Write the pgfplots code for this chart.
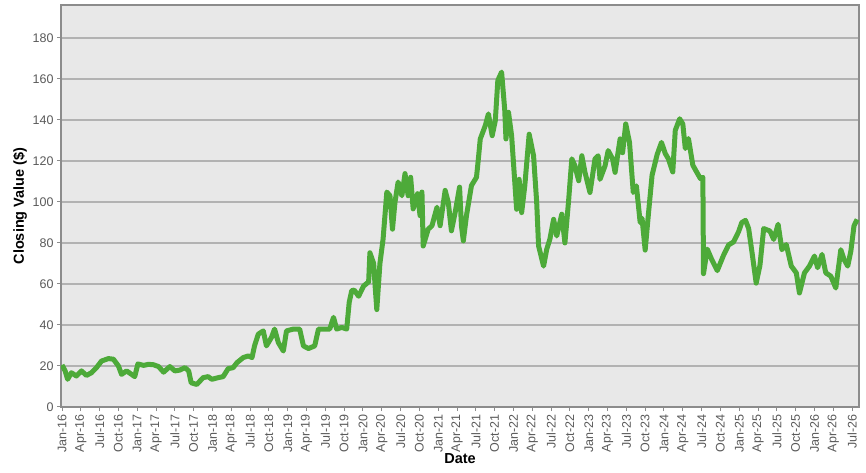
\documentclass[border=0pt]{standalone}
\usepackage{fontspec}
\setmainfont{Liberation Sans}
\usepackage{pgfplots}
\pgfplotsset{compat=1.18}
\definecolor{linegreen}{RGB}{77,170,57}
\definecolor{panel}{RGB}{232,232,232}
\definecolor{gridc}{RGB}{178,178,178}
\definecolor{framec}{RGB}{140,140,140}
\definecolor{ticktext}{RGB}{90,90,90}
\begin{document}
\begin{tikzpicture}
\useasboundingbox (-61pt,-66pt) rectangle (805pt,407pt);
\begin{axis}[
    at={(0,0)}, anchor=south west,
    width=798pt, height=402pt, scale only axis,
    xmin=-0.16, xmax=127.1, ymin=0, ymax=196,
    axis background/.style={fill=panel},
    axis line style={framec, line width=1.2pt},
    ytick={0,20,...,180},
    ymajorgrids, major grid style={gridc, line width=1.4pt},
    xtick={0,3,...,126},
    xticklabels={Jan-16,Apr-16,Jul-16,Oct-16,Jan-17,Apr-17,Jul-17,Oct-17,
      Jan-18,Apr-18,Jul-18,Oct-18,Jan-19,Apr-19,Jul-19,Oct-19,
      Jan-20,Apr-20,Jul-20,Oct-20,Jan-21,Apr-21,Jul-21,Oct-21,
      Jan-22,Apr-22,Jul-22,Oct-22,Jan-23,Apr-23,Jul-23,Oct-23,
      Jan-24,Apr-24,Jul-24,Oct-24,Jan-25,Apr-25,Jul-25,Oct-25,
      Jan-26,Apr-26,Jul-26},
    tick pos=left, tick align=outside, major tick length=4pt,
    tick style={framec, line width=1pt},
    /pgf/number format/assume math mode=true,
    tick label style={font=\fontsize{12.5}{14}\selectfont, text=ticktext},
    x tick label style={rotate=90, anchor=east},
    xlabel={Date}, ylabel={Closing Value (\$)},
    xlabel style={font=\bfseries\fontsize{14.5}{16}\selectfont,
      at={(axis description cs:0.5,-0.129)}, anchor=center},
    ylabel style={font=\bfseries\fontsize{14.5}{16}\selectfont,
      at={(axis description cs:-0.0514,0.5)}, anchor=center},
]
\addplot[linegreen, line width=5pt, line join=round, no markers] coordinates {
(0,20.5) (0.5,17.6) (0.9,13.5) (1.5,16.7) (2.3,15.1) (3.1,17.6) (3.9,15.4)
(4.7,16.7) (5.5,19.2) (6.3,22.4) (7.4,23.6) (8.2,23.3) (9.0,20.0) (9.5,15.9)
(10.3,17.6) (11.1,15.9) (11.6,14.8) (12.1,21.0) (13.0,20.3) (13.8,20.8)
(14.6,20.6) (15.4,19.7) (16.2,17.0) (17.2,19.7) (18.0,17.6) (18.8,18.0)
(19.6,19.2) (20.2,17.6) (20.6,11.8) (21.5,11.0) (22.5,14.3) (23.3,14.8)
(23.9,13.5) (24.9,14.3) (25.7,14.8) (26.5,18.7) (27.3,19.2) (27.9,21.6)
(28.9,24.1) (29.7,24.9) (30.3,24.1) (30.7,29.8) (31.3,35.5) (32.1,37.1)
(32.6,29.8) (33.4,33.9) (33.9,38.0) (34.5,31.4) (35.3,27.3) (35.8,37.1)
(36.9,38.0) (37.9,38.0) (38.5,29.8) (39.3,28.5) (40.3,29.8) (40.9,38.0)
(41.9,38.0) (42.7,38.0) (43.3,43.7) (43.8,38.0) (44.6,38.8) (45.4,38.0)
(45.8,51.0) (46.2,56.7) (46.6,57.0) (47.3,54.0) (48.1,59.0) (48.9,61.0)
(49.1,75.2) (49.7,70.0) (49.9,60.5) (50.2,47.5) (50.7,70.0) (51.2,81.8)
(51.8,104.8) (52.3,103.0) (52.7,86.7) (53.1,99.8) (53.6,109.7) (54.2,103.0)
(54.7,113.8) (55.2,103.0) (55.6,112.0) (56.0,96.6) (56.7,104.0) (57.1,93.3)
(57.4,104.8) (57.6,78.5) (58.4,86.7) (59.0,88.4) (59.8,97.4) (60.3,88.4)
(61.1,105.6) (61.6,99.8) (62.1,85.9) (62.7,94.9) (63.4,107.2) (63.7,88.4)
(64.0,81.0) (64.5,93.3) (65.3,108.0) (66.1,112.0) (66.4,121.0) (66.7,130.7)
(67.5,137.2) (68.0,142.9) (68.6,132.3) (69.1,139.6) (69.5,159.2) (70.1,163.3)
(70.6,145.0) (70.8,130.7) (71.2,143.7) (71.7,132.3) (72.1,114.4) (72.5,96.4)
(72.9,111.0) (73.3,94.8) (73.8,107.8) (74.5,133.0) (75.2,122.5) (75.7,99.7)
(76.0,78.5) (76.8,68.7) (77.3,76.9) (77.8,81.8) (78.4,91.5) (78.9,83.4)
(79.7,94.0) (80.2,80.0) (80.8,101.0) (81.3,121.0) (81.8,117.6) (82.4,110.3)
(82.9,122.5) (83.4,114.4) (84.2,104.6) (85.0,121.0) (85.5,122.5) (85.8,111.0)
(86.6,117.6) (87.1,125.0) (87.8,121.0) (88.2,114.4) (89.0,130.7) (89.4,124.0)
(89.9,138.0) (90.5,129.0) (91.1,104.6) (91.6,107.8) (92.2,90.0) (92.5,92.0)
(93.0,76.5) (93.5,93.5) (94.1,113.0) (94.9,123.0) (95.6,129.0) (96.2,123.6)
(96.7,121.0) (97.4,114.6) (97.8,134.9) (98.5,140.5) (99.0,138.0) (99.4,126.0)
(99.9,130.9) (100.6,117.9) (101.2,114.6) (101.8,111.4) (102.2,112.0)
(102.3,65.0) (102.9,77.0) (103.6,72.0) (104.5,66.5) (105.5,74.0) (106.3,79.0)
(107.1,80.5) (107.9,85.5) (108.4,89.9) (109.0,91.0) (109.5,87.0) (110.1,74.0)
(110.7,60.4) (111.3,69.0) (111.9,87.0) (112.9,85.8) (113.5,81.7) (114.2,89.1)
(114.8,76.7) (115.5,79.2) (116.3,68.7) (117.1,65.4) (117.6,55.6) (118.4,65.4)
(119.2,68.7) (120.0,73.6) (120.5,67.9) (121.2,74.4) (121.8,65.4) (122.6,63.8)
(123.4,58.0) (124.2,76.7) (124.7,72.0) (125.3,68.7) (125.8,76.0) (126.3,88.3)
(126.8,91.5)
};
\end{axis}
\end{tikzpicture}
\end{document}
